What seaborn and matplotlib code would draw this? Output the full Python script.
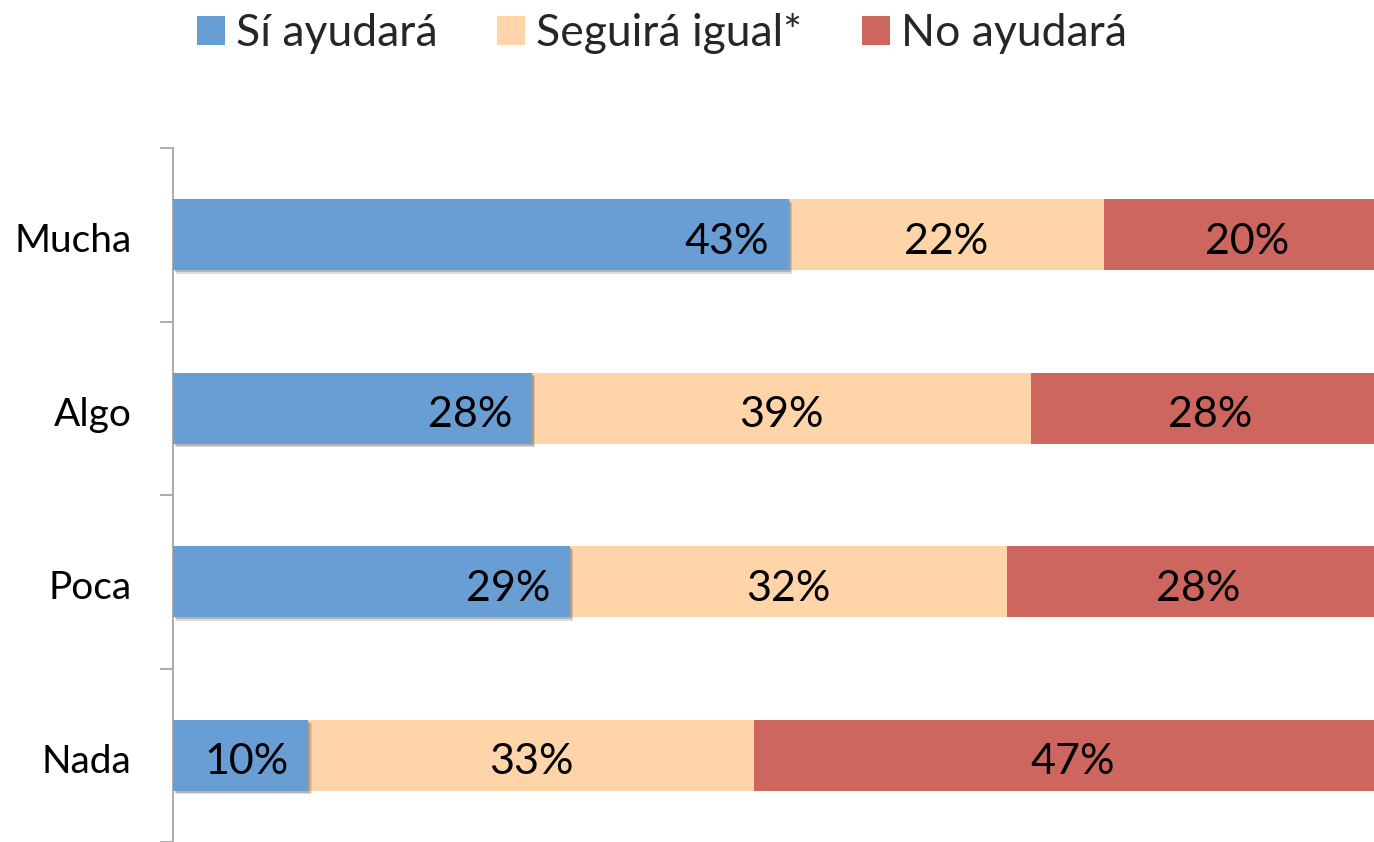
import matplotlib
matplotlib.use("Agg")
import matplotlib.pyplot as plt
import matplotlib.patheffects as pe
from matplotlib.patches import Patch
from matplotlib.ticker import FixedLocator
from matplotlib.transforms import ScaledTranslation
import numpy as np
import pandas as pd
import seaborn as sns

categories = ["Mucha", "Algo", "Poca", "Nada"]
si_ayudara = [43, 28, 29, 10]
seguira_igual = [22, 39, 32, 33]
no_ayudara = [20, 28, 28, 47]
series_names = ["Sí ayudará", "Seguirá igual*", "No ayudará"]
colors = ["#689ED3", "#FED4A8", "#CD665F"]

sns.set_theme(style="white")
plt.rcParams["font.family"] = ["Lato", "DejaVu Sans"]

vals = np.array([si_ayudara, seguira_igual, no_ayudara], dtype=float)
totals = vals.sum(axis=0)
cum = np.cumsum(vals, axis=0) / totals * 100  # stacked, normalised to 100 %

fig = plt.figure(figsize=(13.74, 8.42), dpi=100)
ax = fig.add_axes([173 / 1374, 0, 1217 / 1374, 694 / 842])

bar_h = 0.41
containers = []
for i in [2, 1, 0]:
    df = pd.DataFrame({"cat": categories, "val": cum[i]})
    sns.barplot(data=df, x="val", y="cat", orient="h", color=colors[i],
                saturation=1, width=bar_h, ax=ax, order=categories,
                linewidth=0, zorder=2 + (2 - i))
    containers.append(ax.containers[-1])

# soft shadow for the first series
for patch in containers[-1]:
    patch.set_path_effects([
        pe.SimplePatchShadow(offset=(2.5, -2.5), shadow_rgbFace="#777777", alpha=0.25),
        pe.SimplePatchShadow(offset=(1.5, -1.5), shadow_rgbFace="#555555", alpha=0.3),
        pe.Normal()])

ax.set_xlim(0, 100)
ax.set_ylim(len(categories) - 0.5, -0.5)

# labels
dy = -5
for j in range(len(categories)):
    ax.annotate(f"{si_ayudara[j]}%", xy=(cum[0][j], j), xytext=(-14, dy),
                textcoords="offset points", ha="right", va="center",
                fontsize=31, color="black", zorder=10)
    starts = [cum[0][j], cum[1][j]]
    ends = [cum[1][j], cum[2][j]]
    for k, v in enumerate([seguira_igual[j], no_ayudara[j]]):
        ax.annotate(f"{v}%", xy=((starts[k] + ends[k]) / 2, j), xytext=(0, dy),
                    textcoords="offset points", ha="center", va="center",
                    fontsize=31, color="black", zorder=10)

ax.set_xlabel("")
ax.set_ylabel("")
ax.set_xticks([])
for s in ["top", "right", "bottom"]:
    ax.spines[s].set_visible(False)
ax.spines["left"].set_color("#A6A6A6")
ax.spines["left"].set_linewidth(1.3)
ax.yaxis.set_minor_locator(FixedLocator(np.arange(-0.5, len(categories), 1.0)))
ax.tick_params(axis="y", which="major", length=0, pad=30, labelsize=28, labelcolor="black")
ax.tick_params(axis="y", which="minor", length=9.4, width=1.3, color="#A6A6A6", direction="out", left=True)
off = ScaledTranslation(0, -3 / 100, fig.dpi_scale_trans)
for lab in ax.get_yticklabels():
    lab.set_transform(lab.get_transform() + off)

handles = [Patch(facecolor=c, edgecolor="none") for c in colors]
fig.legend(handles, series_names, loc="upper center", bbox_to_anchor=(662 / 1374, 1.032),
           ncol=3, frameon=False, fontsize=32, handlelength=0.62, handleheight=0.62,
           handletextpad=0.25, columnspacing=1.35)

fig.savefig("out.png", dpi=100)
